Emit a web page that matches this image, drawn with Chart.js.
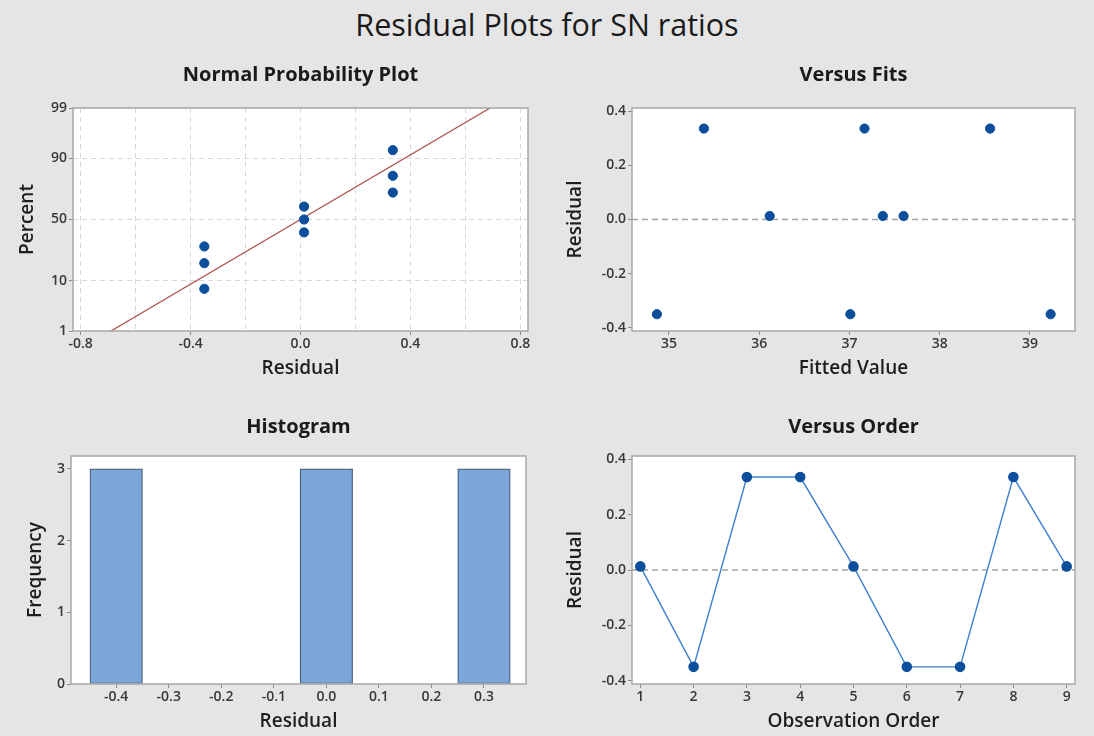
<!DOCTYPE html>
<html>
<head>
<meta charset="utf-8">
<script src="https://cdn.jsdelivr.net/npm/chart.js@4.4.1/dist/chart.umd.min.js"></script>
<style>
  html, body { margin:0; padding:0; background:#e5e5e5; }
  body { width:1094px; height:736px; position:relative; overflow:hidden; font-family:'Open Sans', sans-serif; }
  #mainTitle { position:absolute; left:0; width:1094px; top:3px; text-align:center; font-size:30.5px; color:#1a1a1a; font-family:'Open Sans', sans-serif; }
  canvas { position:absolute; }
</style>
</head>
<body>
<div id="mainTitle">Residual Plots for SN ratios</div>
<canvas id="c1" width="548" height="327" style="left:0px;top:63px"></canvas>
<canvas id="c2" width="546" height="327" style="left:548px;top:63px"></canvas>
<canvas id="c3" width="548" height="321" style="left:0px;top:415px"></canvas>
<canvas id="c4" width="546" height="321" style="left:548px;top:415px"></canvas>
<script>
// ---------- data ----------
const npResiduals = [-0.350, -0.350, -0.350, 0.013, 0.013, 0.013, 0.336, 0.336, 0.336];
const npPercents  = [7.4, 18.1, 28.7, 39.4, 50.0, 60.6, 71.3, 81.9, 92.6];
const fitLineResidual = [-0.69, 0.69];
const fitLinePercent  = [1, 99];
const npXTicks = [-0.8, -0.6, -0.4, -0.2, 0.0, 0.2, 0.4, 0.6, 0.8];
const npXTickLabels = ['-0.8', '', '-0.4', '', '0.0', '', '0.4', '', '0.8'];
const npYTickPercents = [1, 10, 50, 90, 99];
const npYTickLabels = ['1', '10', '50', '90', '99'];

const fittedValues = [34.866, 35.387, 36.116, 37.010, 37.167, 37.370, 37.600, 38.559, 39.230];
const fitsResiduals = [-0.350, 0.336, 0.013, -0.350, 0.336, 0.013, 0.013, 0.336, -0.350];
const fitsXTicks = [35, 36, 37, 38, 39];
const residualTicks = [-0.4, -0.2, 0.0, 0.2, 0.4];

const histBins = [-0.4, -0.3, -0.2, -0.1, 0.0, 0.1, 0.2, 0.3];
const histCounts = [3, 0, 0, 0, 3, 0, 0, 3];
const histBinWidth = 0.1;
const histYTicks = [0, 1, 2, 3];

const observationOrder = [1, 2, 3, 4, 5, 6, 7, 8, 9];
const orderResiduals = [0.013, -0.350, 0.336, 0.336, 0.013, -0.350, -0.350, 0.336, 0.013];

// ---------- helpers ----------
function normInv(p){
  const a=[-3.969683028665376e+01,2.209460984245205e+02,-2.759285104469687e+02,1.383577518672690e+02,-3.066479806614716e+01,2.506628277459239e+00];
  const b=[-5.447609879822406e+01,1.615858368580409e+02,-1.556989798598866e+02,6.680131188771972e+01,-1.328068155288572e+01];
  const c=[-7.784894002430293e-03,-3.223964580411365e-01,-2.400758277161838e+00,-2.549732539343734e+00,4.374664141464968e+00,2.938163982698783e+00];
  const d=[7.784695709041462e-03,3.224671290700398e-01,2.445134137142996e+00,3.754408661907416e+00];
  const pl=0.02425, ph=1-pl; let q,r;
  if(p<pl){q=Math.sqrt(-2*Math.log(p));return (((((c[0]*q+c[1])*q+c[2])*q+c[3])*q+c[4])*q+c[5])/((((d[0]*q+d[1])*q+d[2])*q+d[3])*q+1);}
  if(p>ph){q=Math.sqrt(-2*Math.log(1-p));return -(((((c[0]*q+c[1])*q+c[2])*q+c[3])*q+c[4])*q+c[5])/((((d[0]*q+d[1])*q+d[2])*q+d[3])*q+1);}
  q=p-0.5;r=q*q;return (((((a[0]*r+a[1])*r+a[2])*r+a[3])*r+a[4])*r+a[5])*q/(((((b[0]*r+b[1])*r+b[2])*r+b[3])*r+b[4])*r+1);
}
const zOf = pct => normInv(pct/100);

const FONT = "'Open Sans', sans-serif";
const tickFont = {family: FONT, size: 14, weight: '600'};
const axisTitleFont = {family: FONT, size: 19, weight: '600'};
const plotTitleFont = {family: FONT, size: 20, weight: '700'};
const TICK_COLOR = '#383838';
const DOT = '#0b4f9c';
const DOT_R = 4.6;

const framePlugin = {
  id: 'frame',
  beforeDraw(chart){
    const {ctx, chartArea:a} = chart;
    ctx.save(); ctx.fillStyle = '#ffffff';
    ctx.fillRect(a.left, a.top, a.right-a.left, a.bottom-a.top); ctx.restore();
  },
  beforeDatasetsDraw(chart, args, opts){
    if (opts.refValue === undefined) return;
    const {ctx, chartArea:a} = chart; const y = chart.scales.y.getPixelForValue(opts.refValue);
    ctx.save(); ctx.strokeStyle = '#a3a3a3'; ctx.lineWidth = 1.5; ctx.setLineDash([6,4]);
    ctx.beginPath(); ctx.moveTo(a.left, y); ctx.lineTo(a.right, y); ctx.stroke(); ctx.restore();
  },
  afterDraw(chart){
    const {ctx, chartArea:a} = chart;
    ctx.save(); ctx.strokeStyle = '#a8a8a8'; ctx.lineWidth = 1.5;
    ctx.strokeRect(a.left, a.top, a.right-a.left, a.bottom-a.top); ctx.restore();
  }
};

function xAxis(o){
  return {
    type:'linear', min:o.min, max:o.max, offset:false,
    afterFit: s => { s.height = o.height; },
    afterBuildTicks: s => { s.ticks = o.ticks.map(v => ({value:v})); },
    ticks: {font: tickFont, color: TICK_COLOR, padding: 1, maxRotation:0, autoSkip:false, callback: o.cb},
    grid: {display:true, offset:false, drawOnChartArea: !!o.grid, color:'#d8d8d8', lineWidth:1, drawTicks:true, tickLength:4,
           tickColor: o.tickColor || '#8a8a8a', tickWidth:1},
    border: {display:false, dash: o.grid ? [5,4] : []},
    title: {display:true, text:o.title, font: axisTitleFont, color:'#1e1e1e', padding:{top:0, bottom:o.titlePad}}
  };
}
function yAxis(o){
  return {
    type:'linear', min:o.min, max:o.max,
    afterFit: s => { s.width = o.width; },
    afterBuildTicks: s => { s.ticks = o.ticks.map(v => ({value:v})); },
    ticks: {font: tickFont, color: TICK_COLOR, padding: 2, autoSkip:false, callback: o.cb},
    grid: {display:true, drawOnChartArea: !!o.grid, color:'#d8d8d8', lineWidth:1, drawTicks:true, tickLength:4, tickColor:'#8a8a8a', tickWidth:1},
    border: {display:false, dash: o.grid ? [5,4] : []},
    title: {display:true, text:o.title, font: axisTitleFont, color:'#1e1e1e', padding:{top:o.titlePad, bottom:0}}
  };
}
function baseOptions(o){
  return {
    responsive:false, animation:false, devicePixelRatio:1,
    layout:{padding:{left:0, right:o.padRight, top:0, bottom:0}},
    plugins:{
      legend:{display:false}, tooltip:{enabled:false},
      title:{display:true, text:o.title, font:plotTitleFont, color:'#1a1a1a', fullSize:false, padding:{top:0, bottom:o.titleBottom}},
      frame: o.frame || {}
    },
    scales:{x:o.x, y:o.y}
  };
}
const resLabel = v => v.toFixed(1);

// ---------- 1: Normal Probability Plot ----------
new Chart(document.getElementById('c1'), {
  type:'scatter',
  data:{datasets:[
    {type:'line', data: fitLineResidual.map((r,i)=>({x:r, y:zOf(fitLinePercent[i])})), borderColor:'#b0514f', borderWidth:1.3, pointRadius:0, fill:false, order:2},
    {data: npResiduals.map((r,i)=>({x:r, y:zOf(npPercents[i])})), backgroundColor:DOT, borderColor:DOT, pointRadius:DOT_R, order:1}
  ]},
  options: baseOptions({
    title:'Normal Probability Plot', titleBottom:21, padRight:20,
    x: xAxis({min:-0.828, max:0.828, height:59, ticks:npXTicks, cb:(v,i)=>npXTickLabels[i], grid:true, title:'Residual', titlePad:10.3,
              tickColor: c => npXTickLabels[c.index] ? '#8a8a8a' : 'rgba(0,0,0,0)'}),
    y: yAxis({min:zOf(1), max:zOf(99), width:73, ticks:npYTickPercents.map(zOf), cb:(v,i)=>npYTickLabels[i], grid:true, title:'Percent', titlePad:16.6})
  }),
  plugins:[framePlugin]
});

// ---------- 2: Versus Fits ----------
new Chart(document.getElementById('c2'), {
  type:'scatter',
  data:{datasets:[
    {data: fittedValues.map((f,i)=>({x:f, y:fitsResiduals[i]})), backgroundColor:DOT, borderColor:DOT, pointRadius:DOT_R}
  ]},
  options: baseOptions({
    title:'Versus Fits', titleBottom:21, padRight:19, frame:{refValue:0},
    x: xAxis({min:34.59, max:39.5, height:59, ticks:fitsXTicks, cb:v=>String(v), title:'Fitted Value', titlePad:10.3}),
    y: yAxis({min:-0.412, max:0.412, width:84, ticks:residualTicks, cb:resLabel, title:'Residual', titlePad:16.6})
  }),
  plugins:[framePlugin]
});

// ---------- 3: Histogram ----------
const histChart = new Chart(document.getElementById('c3'), {
  type:'bar',
  data:{datasets:[
    {data: histBins.map((b,i)=>({x:b, y:histCounts[i]})), backgroundColor:'#7ba6da', borderColor:'#4a5a70', borderWidth:1.2, borderSkipped:false,
     barPercentage:1.0, categoryPercentage:1.0}
  ]},
  options: baseOptions({
    title:'Histogram', titleBottom:17, padRight:22,
    x: xAxis({min:-0.486, max:0.38, height:52, ticks:histBins, cb:resLabel, title:'Residual', titlePad:2.6}),
    y: yAxis({min:0, max:3.18, width:71, ticks:histYTicks, cb:v=>String(v), title:'Frequency', titlePad:24.6})
  }),
  plugins:[framePlugin]
});
// bars span exactly one bin width on the x scale
{
  const xs = histChart.scales.x;
  histChart.data.datasets[0].barThickness = Math.abs(xs.getPixelForValue(histBinWidth) - xs.getPixelForValue(0));
  histChart.update('none');
}

// ---------- 4: Versus Order ----------
new Chart(document.getElementById('c4'), {
  type:'scatter',
  data:{datasets:[
    {data: observationOrder.map((o,i)=>({x:o, y:orderResiduals[i]})), showLine:true, borderColor:'#3c80cf', borderWidth:1.4,
     backgroundColor:DOT, pointBorderColor:DOT, pointBackgroundColor:DOT, pointRadius:DOT_R}
  ]},
  options: baseOptions({
    title:'Versus Order', titleBottom:17, padRight:19, frame:{refValue:0},
    x: xAxis({min:0.844, max:9.156, height:52, ticks:observationOrder, cb:v=>String(v), title:'Observation Order', titlePad:2.6}),
    y: yAxis({min:-0.412, max:0.412, width:84, ticks:residualTicks, cb:resLabel, title:'Residual', titlePad:16.6})
  }),
  plugins:[framePlugin]
});
</script>
</body>
</html>
